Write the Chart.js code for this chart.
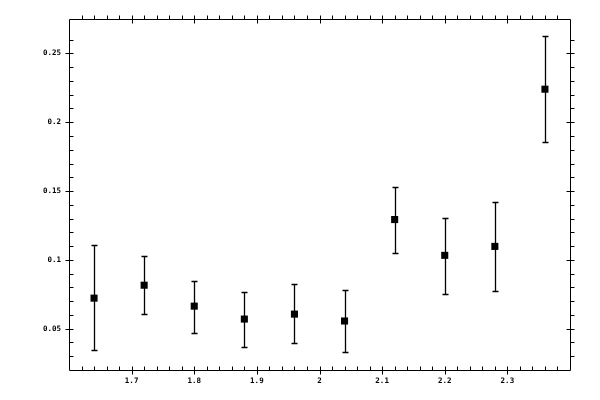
<!DOCTYPE html>
<html>
<head>
<meta charset="utf-8">
<script src="https://cdn.jsdelivr.net/npm/chart.js@4/dist/chart.umd.min.js"></script>
<style>
  html, body { margin: 0; padding: 0; background: #fff; }
  #chart { width: 600px; height: 400px; }
</style>
</head>
<body>
<div id="chart"><canvas id="myChart" width="600" height="400"></canvas></div>
<script>
// values
const xValues = [1.64, 1.72, 1.80, 1.88, 1.96, 2.04, 2.12, 2.20, 2.28, 2.36];
const yValues = [0.0722, 0.0816, 0.0664, 0.0570, 0.0606, 0.0556, 0.1293, 0.1033, 0.1098, 0.2240];
const yLow    = [0.0348, 0.0606, 0.0469, 0.0368, 0.0397, 0.0332, 0.1047, 0.0751, 0.0772, 0.1855];
const yHigh   = [0.1107, 0.1025, 0.0849, 0.0770, 0.0823, 0.0780, 0.1531, 0.1307, 0.1423, 0.2627];

const xTickLabels = ['1.7', '1.8', '1.9', '2', '2.1', '2.2', '2.3'];
const yTickLabels = ['0.05', '0.1', '0.15', '0.2', '0.25'];

function labelFor(list, v) {
    return list.find(s => Math.abs(parseFloat(s) - v) < 1e-6) || '';
}

// vertical error bars with small caps, drawn under the squares
const errorBars = {
    id: 'errorBars',
    beforeDatasetsDraw(chart) {
        const ctx = chart.ctx;
        const xs = chart.scales.x, ys = chart.scales.y;
        ctx.save();
        ctx.strokeStyle = '#000';
        ctx.lineWidth = 1.3;
        xValues.forEach((xv, i) => {
            const px = Math.round(xs.getPixelForValue(xv)) + 0.5;
            const top = Math.round(ys.getPixelForValue(yHigh[i])) + 0.5;
            const bot = Math.round(ys.getPixelForValue(yLow[i])) + 0.5;
            ctx.beginPath();
            ctx.moveTo(px, top);
            ctx.lineTo(px, bot);
            ctx.moveTo(px - 3, top);
            ctx.lineTo(px + 3, top);
            ctx.moveTo(px - 3, bot);
            ctx.lineTo(px + 3, bot);
            ctx.stroke();
        });
        ctx.restore();
    }
};

// frame with major / minor ticks on all four sides
const frame = {
    id: 'frame',
    afterDraw(chart) {
        const ctx = chart.ctx;
        const a = chart.chartArea;
        const xs = chart.scales.x, ys = chart.scales.y;
        const L = a.left + 0.5, R = a.right + 0.5, T = a.top + 0.5, B = a.bottom + 0.5;
        ctx.save();
        ctx.strokeStyle = '#000';
        ctx.lineWidth = 1;
        ctx.beginPath();
        ctx.rect(L, T, R - L, B - T);

        xs.ticks.forEach(t => {
            const px = Math.round(xs.getPixelForValue(t.value)) + 0.5;
            if (px < L + 2 || px > R - 2) return;
            const major = labelFor(xTickLabels, t.value) !== '';
            if (major) {
                ctx.moveTo(px, B - 4); ctx.lineTo(px, B + 4);
                ctx.moveTo(px, T - 4); ctx.lineTo(px, T + 4);
            } else {
                ctx.moveTo(px, B - 4); ctx.lineTo(px, B);
                ctx.moveTo(px, T - 4); ctx.lineTo(px, T);
            }
        });

        ys.ticks.forEach(t => {
            const py = Math.round(ys.getPixelForValue(t.value)) + 0.5;
            if (py < T + 2 || py > B - 2) return;
            const major = labelFor(yTickLabels, t.value) !== '';
            if (major) {
                ctx.moveTo(L - 4, py); ctx.lineTo(L + 4, py);
                ctx.moveTo(R - 4, py); ctx.lineTo(R + 4, py);
            } else {
                ctx.moveTo(L, py); ctx.lineTo(L + 4, py);
                ctx.moveTo(R, py); ctx.lineTo(R + 4, py);
            }
        });
        ctx.stroke();
        ctx.restore();
    }
};

const tickFont = { family: '"DejaVu Sans Mono", monospace', size: 7.5, weight: 'bold' };

const config = {
    type: 'scatter',
    data: {
        datasets: [{
            data: xValues.map((x, i) => ({ x: x, y: yValues[i] })),
            pointStyle: 'rect',
            pointRadius: 5,
            pointHoverRadius: 5,
            backgroundColor: '#000',
            borderColor: '#000',
            borderWidth: 0,
            showLine: false
        }]
    },
    options: {
        responsive: false,
        animation: false,
        events: [],
        layout: { padding: { top: 19, right: 30, left: 0, bottom: 0 } },
        plugins: {
            legend: { display: false },
            tooltip: { enabled: false }
        },
        scales: {
            x: {
                type: 'linear',
                min: 1.6,
                max: 2.4,
                grid: { display: false, drawTicks: false },
                border: { display: false },
                ticks: {
                    stepSize: 0.02,
                    autoSkip: false,
                    maxRotation: 0,
                    minRotation: 0,
                    padding: 7,
                    color: '#000',
                    font: tickFont,
                    callback: v => labelFor(xTickLabels, v)
                },
                afterFit: s => { s.height = 30; }
            },
            y: {
                type: 'linear',
                min: 0.02,
                max: 0.275,
                grid: { display: false, drawTicks: false },
                border: { display: false },
                ticks: {
                    stepSize: 0.01,
                    autoSkip: false,
                    padding: 8,
                    color: '#000',
                    font: tickFont,
                    callback: v => labelFor(yTickLabels, v)
                },
                afterFit: s => { s.width = 69; }
            }
        }
    },
    plugins: [errorBars, frame]
};

new Chart(document.getElementById('myChart'), config);
</script>
</body>
</html>
